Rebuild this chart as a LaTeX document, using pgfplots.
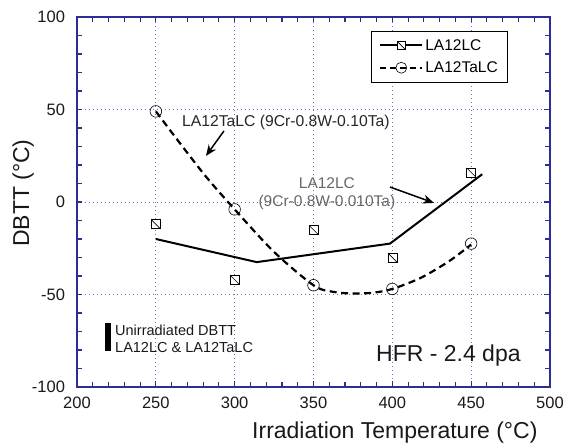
\documentclass[border=0pt]{standalone}
\usepackage{fontspec}
\setmainfont{Liberation Sans}
\usepackage{pgfplots}
\pgfplotsset{compat=1.18}
\usetikzlibrary{arrows.meta}
\definecolor{axnavy}{RGB}{45,45,150}
\definecolor{gridc}{RGB}{110,110,200}
\pgfdeclareplotmark{sqd}{%
 \pgfpathrectangle{\pgfpoint{-\pgfplotmarksize}{-\pgfplotmarksize}}{\pgfpoint{2\pgfplotmarksize}{2\pgfplotmarksize}}%
 \pgfusepathqfillstroke
 \pgfpathmoveto{\pgfpoint{-\pgfplotmarksize}{\pgfplotmarksize}}%
 \pgfpathlineto{\pgfpoint{\pgfplotmarksize}{-\pgfplotmarksize}}%
 \pgfusepathqstroke}
\begin{document}
\begin{tikzpicture}
\useasboundingbox (-77pt,-59pt) rectangle (489pt,387pt);
\begin{axis}[at={(0,0)}, anchor=south west, scale only axis,
 width=473pt, height=370pt,
 xmin=200, xmax=500, ymin=-100, ymax=100,
 xtick={200,250,...,500}, ytick={-100,-50,...,100},
 minor x tick num=4, minor y tick num=4,
 tick align=inside,
 axis line style={axnavy, line width=1.1pt},
 tick style={axnavy, line width=1.1pt},
 major tick length=5.5pt, minor tick length=5pt,
 xmajorgrids, ymajorgrids,
 major grid style={gridc, dash pattern=on 1.2pt off 2.8pt, line width=0.8pt},
 tick label style={font=\fontsize{16.5}{18}\selectfont, text=black!90},
 /pgf/number format/assume math mode=true,
 xticklabel style={yshift=-6.5pt},
 yticklabel style={xshift=-8.5pt},
 xlabel={Irradiation Temperature (°C)},
 ylabel={DBTT (°C)},
 label style={font=\fontsize{23}{26}\selectfont, text=black!90},
 xlabel style={at={(axis description cs:0.672,-0.122)}, anchor=center},
 ylabel style={at={(axis description cs:-0.114,0.524)}, anchor=center},
 legend style={at={(axis description cs:0.911,0.962)}, anchor=north east,
   draw=black, font=\fontsize{15.5}{18}\selectfont,
   inner xsep=8pt, inner ysep=6pt, row sep=6pt},
 legend cell align=left,
 legend image code/.code={\draw[mark repeat=2, mark phase=2, #1] plot coordinates {(0pt,0pt) (21pt,0pt) (42pt,0pt)};},
]
\addlegendimage{black, line width=2pt, mark=sqd, mark size=3.8pt, mark options={solid, fill=white, line width=0.6pt}}
\addlegendentry{LA12LC}
\addlegendimage{black, line width=2pt, dash pattern=on 6pt off 4pt, mark=o, mark size=5.5pt, mark options={solid, fill=white, line width=0.6pt}}
\addlegendentry{LA12TaLC}

% unirradiated DBTT bar
\addplot[black, line width=6pt, forget plot] coordinates {(219.7,-65.4) (219.7,-80.5)};

% LA12LC fit line
\addplot[black, line width=2pt, forget plot] coordinates {(250,-20) (314,-32.5) (398.5,-22.5) (457,15)};
% LA12TaLC fit curve
\addplot[black, line width=2.2pt, dash pattern=on 7pt off 4.5pt, smooth, forget plot] coordinates {
 (250,49) (266,31) (282,13.5) (300,-4) (325,-27) (350,-45) (362,-48.5) (375,-49.5) (388,-49) (400,-47) (418,-41) (436,-32) (450,-23)};

% LA12LC data
\addplot[only marks, mark=sqd, mark size=4.5pt, mark options={fill=white, draw=black, line width=0.6pt}, forget plot]
 coordinates {(250,-12) (300,-42) (350,-15) (400,-30) (450,16)};
% LA12TaLC data
\addplot[only marks, mark=o, mark size=5.8pt, mark options={fill=white, draw=black, line width=0.6pt}, forget plot]
 coordinates {(250,49) (300,-4) (350,-45) (400,-47) (450,-22.5)};

\node[anchor=west, inner sep=0pt, font=\fontsize{15.7}{18}\selectfont, text=black!85] at (axis cs:266.6,43.2) {LA12TaLC (9Cr-0.8W-0.10Ta)};
\draw[-{Stealth[length=11pt,width=9pt]}, line width=1.5pt] (axis cs:293.2,38.4) -- (axis cs:281.8,24.9);
\node[align=center, inner sep=0pt, font=\fontsize{15.5}{18}\selectfont, text=black!60] at (axis cs:358.5,4.3) {LA12LC\\(9Cr-0.8W-0.010Ta)};
\draw[-{Stealth[length=11pt,width=9pt]}, line width=1.5pt] (axis cs:398.5,8.1) -- (axis cs:426.4,-0.5);
\node[anchor=west, align=left, inner sep=0pt, font=\fontsize{14.5}{17}\selectfont, text=black!90] at (axis cs:224.1,-73.8) {Unirradiated DBTT\\LA12LC \& LA12TaLC};
\node[anchor=east, inner sep=0pt, font=\fontsize{23}{26}\selectfont, text=black!90] at (axis cs:481.5,-83.2) {HFR - 2.4 dpa};
\end{axis}
\end{tikzpicture}
\end{document}
